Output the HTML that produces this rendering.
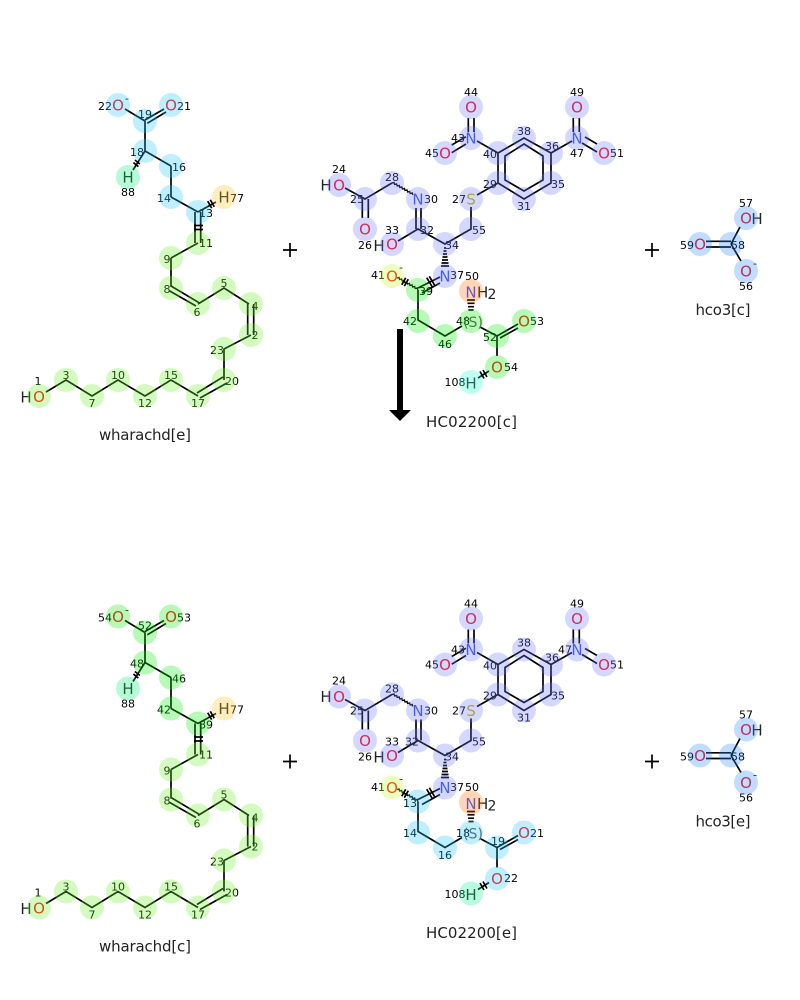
<!DOCTYPE html>
<html><head><meta charset="utf-8"><style>
html,body{margin:0;padding:0;background:#fff}
svg{display:block}
text{font-family:"DejaVu Sans",sans-serif}
.n{font-size:11px;text-anchor:middle;fill:#000}
.a{font-size:15px;text-anchor:middle}
.O{fill:#ff0808}.N{fill:#3050f8}.S{fill:#c8b400}.H{fill:#222}
.t{font-size:15px;text-anchor:middle;fill:#222}
.b{fill:none;stroke:#000;stroke-width:1.7}
.w{fill:none;stroke:#000;stroke-width:1.3}
.c circle{r:12px;opacity:.3}
.cy{fill:rgb(42,198,255)}.li{fill:rgb(112,242,42)}.gr{fill:rgb(18,238,18)}.la{fill:rgb(112,125,255)}
.mi{fill:rgb(18,238,122)}.ye{fill:rgb(255,198,35)}.ol{fill:rgb(192,255,45)}.or{fill:rgb(255,115,18)}
.aq{fill:rgb(35,255,205)}.aq2{fill:rgb(18,245,152)}.bl{fill:rgb(45,138,255)}
</style></head><body>
<svg width="800" height="1000" viewBox="0 0 800 1000" xmlns="http://www.w3.org/2000/svg">
<rect width="800" height="1000" fill="#fff"/>

<!-- TOP: bonds -->
<path class="b" d="M125 109L145 121M145 120L164 109M147.3 123.3L166 112M145 121V151M145 151L171 166M171 166V197M171 197L198 212M195 212V243M200.7 212V243M198 243L171 258M171 258V287M171 286L199 302.7M169.3 290.7L196 306M198 304L224 288L249 304M247.7 304V335M253.7 304V335M251 335L224 349V380M223 377L197 393M227 383L200 398M198 396L171 380L145 396L118 380L92 396L66 380L46 392M145 151L133 170M198 212L216 202M194 225.5H203M194 229.5H203M139.9 164L134.9 160M138.4 166.6L133.4 162.6M207.7 201.2L211.7 208.2M210.3 199.8L214.3 206.8"/>
<path class="b" d="M524 138L551 153V183L524 199L498 183V153ZM524 144L543 156V180L524 191L505 180V156ZM468.3 118V132M474 118V132M451.7 145L466 136.7M451.7 152.7L466 144M477 141L498 153M573.3 118V132M579.3 118V132M585 137L597 144M582 143L597 152M572 141L551 153M477 195L498 183M471 207V229L445 244L418 229L398 241M416 208V229M421 208V229M392 183L365 199L345 188M362.3 199V218M368.3 199V218M440 277L418 288M440 283L422 293M418 290V320L445 336L462 326M480 327L497 336M497 336L518 324M500 338L518 328M497 336V356M489 371L478 378M487 377L483 370M484 378.5L480 371.5M401.7 284.8L405.7 277.8M404.3 286.2L408.3 279.2M426.7 277.7L432.7 287.7M429.3 276.3L435.3 286.3"/>
<path class="w" d="M392 183l2.05 -.55l.55 2.05l2.05 -.55l.55 2.05l2.05 -.55l.55 2.05l2.05 -.55l.55 2.05l2.05 -.55l.55 2.05l2.05 -.55l.55 2.05l2.05 -.55l.55 2.05l2.05 -.55l.55 2.05"/>
<path class="w" d="M397 278l2.05 -.55l.55 2.05l2.05 -.55l.55 2.05l2.05 -.55l.55 2.05l2.05 -.55l.55 2.05l2.05 -.55l.55 2.05l2.05 -.55l.55 2.05l2.05 -.55l.55 2.05l2.05 -.55l.55 2.05"/>
<path class="b" d="M444 248H446M443.5 251H446.5M443 254H447M442.5 257H447.5M442 260H448M441.5 263H448.5M441 266H449M467 300H475M467.5 303.3H474.5M468 306.7H474M468.5 310H473.5"/>
<path class="b" d="M731 244L740 227M731 244L741 261M706 241.3H731M706 247H731"/>

<!-- TOP: arrow + plus -->
<rect x="397" y="329" width="6" height="81"/>
<polygon points="389,410 411,410 400,421"/>
<path class="b" d="M283 250H297M290 243V257M645 250H659M652 243V257"/>

<!-- TOP: text left -->
<g>
<text class="a O" x="118" y="110.5">O</text><text class="n" x="127" y="102">-</text><text class="a O" x="171" y="110.5">O</text>
<text class="n" x="105" y="110">22</text><text class="n" x="184" y="110">21</text><text class="n" x="145" y="118">19</text>
<text class="n" x="137" y="156">18</text><text class="n" x="179" y="171">16</text><text class="a H" x="128" y="182.5">H</text><text class="n" x="128" y="196">88</text>
<text class="n" x="164" y="202">14</text><text class="n" x="206" y="217">13</text><text class="a H" x="224" y="202.5">H</text><text class="n" x="237" y="202">77</text>
<text class="n" x="206" y="247">11</text><text class="n" x="167" y="263">9</text><text class="n" x="167" y="293">8</text><text class="n" x="197" y="316">6</text>
<text class="n" x="224" y="287">5</text><text class="n" x="255" y="310">4</text><text class="n" x="255" y="339">2</text><text class="n" x="217" y="354">23</text>
<text class="n" x="232" y="385">20</text><text class="n" x="198" y="407">17</text><text class="n" x="171" y="379">15</text><text class="n" x="145" y="407">12</text>
<text class="n" x="118" y="379">10</text><text class="n" x="92" y="407">7</text><text class="n" x="66" y="379">3</text><text class="n" x="38" y="385">1</text>
<text class="a H" x="26" y="402.5">H</text><text class="a O" x="39" y="402">O</text>
<text class="t" x="145" y="440" textLength="92">wharachd[e]</text>
</g>

<!-- TOP: text middle -->
<g>
<text class="a O" x="471" y="112.5">O</text><text class="n" x="471" y="96">44</text><text class="a N" x="471" y="143.5">N</text><text class="n" x="458" y="142">43</text>
<text class="a O" x="445" y="158.5">O</text><text class="n" x="432" y="157">45</text><text class="n" x="524" y="135">38</text><text class="n" x="490" y="158">40</text>
<text class="n" x="552" y="150">36</text><text class="a N" x="577" y="143.5">N</text><text class="n" x="577" y="157">47</text><text class="a O" x="577" y="112.5">O</text><text class="n" x="577" y="96">49</text>
<text class="a O" x="604" y="158.5">O</text><text class="n" x="617" y="157">51</text><text class="n" x="490" y="188">29</text><text class="n" x="558" y="188">35</text><text class="n" x="524" y="210">31</text>
<text class="a S" x="471" y="204.5">S</text><text class="n" x="459" y="203">27</text><text class="n" x="339" y="173">24</text><text class="a H" x="326" y="190.5">H</text><text class="a O" x="339" y="190.5">O</text>
<text class="n" x="392" y="181">28</text><text class="n" x="357" y="203">25</text><text class="a N" x="418" y="204.5">N</text><text class="n" x="431" y="203">30</text>
<text class="n" x="392" y="234">33</text><text class="n" x="427" y="234">32</text><text class="a O" x="365" y="234.5">O</text><text class="n" x="365" y="249">26</text>
<text class="a H" x="379" y="251">H</text><text class="a O" x="392" y="249.5">O</text><text class="n" x="479" y="234">55</text><text class="n" x="452" y="249">34</text>
<text class="n" x="378" y="279">41</text><text class="a O" x="392" y="281.5">O</text><text class="n" x="401" y="271">-</text><text class="a N" x="445" y="281.5">N</text><text class="n" x="457" y="279">37</text>
<text class="n" x="472" y="280">50</text><text class="a N" x="471" y="297.5">N</text><text class="a H" x="482.7" y="297.5">H</text><text class="a" x="492" y="299" style="font-size:14px;fill:#222">2</text>
<text class="n" x="426" y="295">39</text><text class="n" x="410" y="325">42</text><text class="n" x="445" y="348">46</text><text class="n" x="463" y="325">48</text>
<text class="a" x="473" y="327" style="font-size:14px;fill:#555">(S)</text><text class="n" x="490" y="341">52</text><text class="a O" x="524" y="326.5">O</text><text class="n" x="537" y="325">53</text>
<text class="a O" x="497" y="372.5">O</text><text class="n" x="511" y="371">54</text><text class="n" x="455" y="386">108</text><text class="a H" x="471" y="388.5">H</text>
<text class="t" x="471.5" y="427" textLength="91">HC02200[c]</text>
</g>

<!-- TOP: text right -->
<g>
<text class="n" x="746" y="207">57</text><text class="a O" x="746" y="223.5">O</text><text class="a H" x="757" y="224">H</text>
<text class="n" x="687" y="249">59</text><text class="a O" x="700" y="249.5">O</text><text class="n" x="738" y="249">58</text>
<text class="a O" x="746" y="276.5">O</text><text class="n" x="755" y="267">-</text><text class="n" x="746" y="290">56</text>
<text class="t" x="723" y="315" textLength="55">hco3[c]</text>
</g>

<!-- BOTTOM: bonds -->
<g transform="translate(0,511.5)">
<path class="b" d="M125 109L145 121M145 120L164 109M147.3 123.3L166 112M145 121V151M145 151L171 166M171 166V197M171 197L198 212M195 212V243M200.7 212V243M198 243L171 258M171 258V287M171 286L199 302.7M169.3 290.7L196 306M198 304L224 288L249 304M247.7 304V335M253.7 304V335M251 335L224 349V380M223 377L197 393M227 383L200 398M198 396L171 380L145 396L118 380L92 396L66 380L46 392M145 151L133 170M198 212L216 202M194 225.5H203M194 229.5H203M139.9 164L134.9 160M138.4 166.6L133.4 162.6M207.7 201.2L211.7 208.2M210.3 199.8L214.3 206.8"/>
<path class="b" d="M524 138L551 153V183L524 199L498 183V153ZM524 144L543 156V180L524 191L505 180V156ZM468.3 118V132M474 118V132M451.7 145L466 136.7M451.7 152.7L466 144M477 141L498 153M573.3 118V132M579.3 118V132M585 137L597 144M582 143L597 152M572 141L551 153M477 195L498 183M471 207V229L445 244L418 229L398 241M416 208V229M421 208V229M392 183L365 199L345 188M362.3 199V218M368.3 199V218M440 277L418 288M440 283L422 293M418 290V320L445 336L462 326M480 327L497 336M497 336L518 324M500 338L518 328M497 336V356M489 371L478 378M487 377L483 370M484 378.5L480 371.5M401.7 284.8L405.7 277.8M404.3 286.2L408.3 279.2M426.7 277.7L432.7 287.7M429.3 276.3L435.3 286.3"/>
<path class="w" d="M392 183l2.05 -.55l.55 2.05l2.05 -.55l.55 2.05l2.05 -.55l.55 2.05l2.05 -.55l.55 2.05l2.05 -.55l.55 2.05l2.05 -.55l.55 2.05l2.05 -.55l.55 2.05l2.05 -.55l.55 2.05"/>
<path class="w" d="M397 278l2.05 -.55l.55 2.05l2.05 -.55l.55 2.05l2.05 -.55l.55 2.05l2.05 -.55l.55 2.05l2.05 -.55l.55 2.05l2.05 -.55l.55 2.05l2.05 -.55l.55 2.05l2.05 -.55l.55 2.05"/>
<path class="b" d="M444 248H446M443.5 251H446.5M443 254H447M442.5 257H447.5M442 260H448M441.5 263H448.5M441 266H449M467 300H475M467.5 303.3H474.5M468 306.7H474M468.5 310H473.5"/>
<path class="b" d="M731 244L740 227M731 244L741 261M706 241.3H731M706 247H731"/>
<path class="b" d="M283 250H297M290 243V257M645 250H659M652 243V257"/>
</g>

<!-- BOTTOM: text left -->
<g>
<text class="a O" x="118" y="622">O</text><text class="n" x="127" y="613.5">-</text><text class="a O" x="171" y="622">O</text>
<text class="n" x="105" y="621.5">54</text><text class="n" x="184" y="621.5">53</text><text class="n" x="145" y="629.5">52</text>
<text class="n" x="137" y="667.5">48</text><text class="n" x="179" y="682.5">46</text><text class="a H" x="128" y="694">H</text><text class="n" x="128" y="707.5">88</text>
<text class="n" x="164" y="713.5">42</text><text class="n" x="206" y="728.5">89</text><text class="a H" x="224" y="714">H</text><text class="n" x="237" y="713.5">77</text>
<text class="n" x="206" y="758.5">11</text><text class="n" x="167" y="774.5">9</text><text class="n" x="167" y="804.5">8</text><text class="n" x="197" y="827.5">6</text>
<text class="n" x="224" y="798.5">5</text><text class="n" x="255" y="821.5">4</text><text class="n" x="255" y="850.5">2</text><text class="n" x="217" y="865.5">23</text>
<text class="n" x="232" y="896.5">20</text><text class="n" x="198" y="918.5">17</text><text class="n" x="171" y="890.5">15</text><text class="n" x="145" y="918.5">12</text>
<text class="n" x="118" y="890.5">10</text><text class="n" x="92" y="918.5">7</text><text class="n" x="66" y="890.5">3</text><text class="n" x="38" y="896.5">1</text>
<text class="a H" x="26" y="914">H</text><text class="a O" x="39" y="913.5">O</text>
<text class="t" x="145" y="951.5" textLength="92">wharachd[c]</text>
</g>

<!-- BOTTOM: text middle -->
<g>
<text class="a O" x="471" y="624">O</text><text class="n" x="471" y="607.5">44</text><text class="a N" x="471" y="655">N</text><text class="n" x="458" y="653.5">43</text>
<text class="a O" x="445" y="670">O</text><text class="n" x="432" y="668.5">45</text><text class="n" x="524" y="646.5">38</text><text class="n" x="490" y="669.5">40</text>
<text class="n" x="552" y="661.5">36</text><text class="a N" x="577" y="655">N</text><text class="n" x="565" y="653.5">47</text><text class="a O" x="577" y="624">O</text><text class="n" x="577" y="607.5">49</text>
<text class="a O" x="604" y="670">O</text><text class="n" x="617" y="668.5">51</text><text class="n" x="490" y="699.5">29</text><text class="n" x="558" y="699.5">35</text><text class="n" x="524" y="721.5">31</text>
<text class="a S" x="471" y="716">S</text><text class="n" x="459" y="714.5">27</text><text class="n" x="339" y="684.5">24</text><text class="a H" x="326" y="702">H</text><text class="a O" x="339" y="702">O</text>
<text class="n" x="392" y="692.5">28</text><text class="n" x="357" y="714.5">25</text><text class="a N" x="418" y="716">N</text><text class="n" x="431" y="714.5">30</text>
<text class="n" x="392" y="745.5">33</text><text class="n" x="412" y="745.5">32</text><text class="a O" x="365" y="746">O</text><text class="n" x="365" y="760.5">26</text>
<text class="a H" x="379" y="762.5">H</text><text class="a O" x="392" y="761">O</text><text class="n" x="479" y="745.5">55</text><text class="n" x="452" y="760.5">34</text>
<text class="n" x="378" y="791">41</text><text class="a O" x="392" y="793">O</text><text class="n" x="401" y="782.5">-</text><text class="a N" x="445" y="793">N</text><text class="n" x="457" y="791">37</text>
<text class="n" x="472" y="791">50</text><text class="a N" x="471" y="809">N</text><text class="a H" x="482.7" y="809">H</text><text class="a" x="492" y="810.5" style="font-size:14px;fill:#222">2</text>
<text class="n" x="410" y="807">13</text><text class="n" x="410" y="837">14</text><text class="n" x="445" y="859">16</text><text class="n" x="463" y="837">18</text>
<text class="a" x="473" y="838.5" style="font-size:14px;fill:#555">(S)</text><text class="n" x="498" y="845">19</text><text class="a O" x="524" y="838">O</text><text class="n" x="537" y="837">21</text>
<text class="a O" x="497" y="884">O</text><text class="n" x="511" y="882">22</text><text class="n" x="455" y="898">108</text><text class="a H" x="471" y="900">H</text>
<text class="t" x="471.5" y="938" textLength="91">HC02200[e]</text>
</g>

<!-- BOTTOM: text right -->
<g>
<text class="n" x="746" y="718.5">57</text><text class="a O" x="746" y="735">O</text><text class="a H" x="757" y="735.5">H</text>
<text class="n" x="687" y="760.5">59</text><text class="a O" x="700" y="761">O</text><text class="n" x="738" y="760.5">58</text>
<text class="a O" x="746" y="788">O</text><text class="n" x="755" y="778.5">-</text><text class="n" x="746" y="801.5">56</text>
<text class="t" x="723" y="826.5" textLength="55">hco3[e]</text>
</g>

<!-- TOP circles -->
<g class="c">
<circle class="cy" cx="118" cy="105"/><circle class="cy" cx="171" cy="105"/><circle class="cy" cx="145" cy="121"/><circle class="cy" cx="145" cy="151"/><circle class="cy" cx="171" cy="166"/><circle class="cy" cx="171" cy="197"/><circle class="cy" cx="198" cy="212"/>
<circle class="mi" cx="128" cy="177"/><circle class="ye" cx="224" cy="197"/>
<circle class="li" cx="198" cy="243"/><circle class="li" cx="171" cy="258"/><circle class="li" cx="171" cy="288"/><circle class="li" cx="198" cy="304"/><circle class="li" cx="224" cy="288"/><circle class="li" cx="251" cy="304"/><circle class="li" cx="251" cy="335"/><circle class="li" cx="224" cy="349"/><circle class="li" cx="224" cy="380"/><circle class="li" cx="198" cy="396"/><circle class="li" cx="171" cy="380"/><circle class="li" cx="145" cy="396"/><circle class="li" cx="118" cy="380"/><circle class="li" cx="92" cy="396"/><circle class="li" cx="66" cy="380"/><circle class="li" cx="39" cy="396"/>
<circle class="la" cx="471" cy="107"/><circle class="la" cx="471" cy="138"/><circle class="la" cx="445" cy="153"/><circle class="la" cx="498" cy="153"/><circle class="la" cx="524" cy="138"/><circle class="la" cx="551" cy="153"/><circle class="la" cx="577" cy="138"/><circle class="la" cx="577" cy="107"/><circle class="la" cx="604" cy="153"/><circle class="la" cx="551" cy="183"/><circle class="la" cx="524" cy="199"/><circle class="la" cx="498" cy="183"/><circle class="la" cx="471" cy="199"/><circle class="la" cx="471" cy="229"/><circle class="la" cx="445" cy="244"/><circle class="la" cx="418" cy="229"/><circle class="la" cx="392" cy="244"/><circle class="la" cx="418" cy="199"/><circle class="la" cx="392" cy="183"/><circle class="la" cx="365" cy="199"/><circle class="la" cx="339" cy="185"/><circle class="la" cx="365" cy="229"/><circle class="la" cx="445" cy="276"/>
<circle class="ol" cx="392" cy="276"/><circle class="or" cx="471" cy="291"/>
<circle class="gr" cx="418" cy="290"/><circle class="gr" cx="418" cy="321"/><circle class="gr" cx="445" cy="336"/><circle class="gr" cx="471" cy="321"/><circle class="gr" cx="497" cy="336"/><circle class="gr" cx="524" cy="321"/><circle class="gr" cx="497" cy="367"/>
<circle class="aq" cx="471" cy="382"/>
<circle class="bl" cx="746" cy="218"/><circle class="bl" cx="731" cy="244"/><circle class="bl" cx="700" cy="244"/><circle class="bl" cx="746" cy="271"/>
</g>

<!-- BOTTOM circles -->
<g class="c" transform="translate(0,511.5)">
<circle class="gr" cx="118" cy="105"/><circle class="gr" cx="171" cy="105"/><circle class="gr" cx="145" cy="121"/><circle class="gr" cx="145" cy="151"/><circle class="gr" cx="171" cy="166"/><circle class="gr" cx="171" cy="197"/><circle class="gr" cx="198" cy="212"/>
<circle class="mi" cx="128" cy="177"/><circle class="ye" cx="224" cy="197"/>
<circle class="li" cx="198" cy="243"/><circle class="li" cx="171" cy="258"/><circle class="li" cx="171" cy="288"/><circle class="li" cx="198" cy="304"/><circle class="li" cx="224" cy="288"/><circle class="li" cx="251" cy="304"/><circle class="li" cx="251" cy="335"/><circle class="li" cx="224" cy="349"/><circle class="li" cx="224" cy="380"/><circle class="li" cx="198" cy="396"/><circle class="li" cx="171" cy="380"/><circle class="li" cx="145" cy="396"/><circle class="li" cx="118" cy="380"/><circle class="li" cx="92" cy="396"/><circle class="li" cx="66" cy="380"/><circle class="li" cx="39" cy="396"/>
<circle class="la" cx="471" cy="107"/><circle class="la" cx="471" cy="138"/><circle class="la" cx="445" cy="153"/><circle class="la" cx="498" cy="153"/><circle class="la" cx="524" cy="138"/><circle class="la" cx="551" cy="153"/><circle class="la" cx="577" cy="138"/><circle class="la" cx="577" cy="107"/><circle class="la" cx="604" cy="153"/><circle class="la" cx="551" cy="183"/><circle class="la" cx="524" cy="199"/><circle class="la" cx="498" cy="183"/><circle class="la" cx="471" cy="199"/><circle class="la" cx="471" cy="229"/><circle class="la" cx="445" cy="244"/><circle class="la" cx="418" cy="229"/><circle class="la" cx="392" cy="244"/><circle class="la" cx="418" cy="199"/><circle class="la" cx="392" cy="183"/><circle class="la" cx="365" cy="199"/><circle class="la" cx="339" cy="185"/><circle class="la" cx="365" cy="229"/><circle class="la" cx="445" cy="276"/>
<circle class="ol" cx="392" cy="276"/><circle class="or" cx="471" cy="291"/>
<circle class="cy" cx="418" cy="290"/><circle class="cy" cx="418" cy="321"/><circle class="cy" cx="445" cy="336"/><circle class="cy" cx="471" cy="321"/><circle class="cy" cx="497" cy="336"/><circle class="cy" cx="524" cy="321"/><circle class="cy" cx="497" cy="367"/>
<circle class="aq2" cx="471" cy="382"/>
<circle class="bl" cx="746" cy="218"/><circle class="bl" cx="731" cy="244"/><circle class="bl" cx="700" cy="244"/><circle class="bl" cx="746" cy="271"/>
</g>
</svg>
</body></html>
